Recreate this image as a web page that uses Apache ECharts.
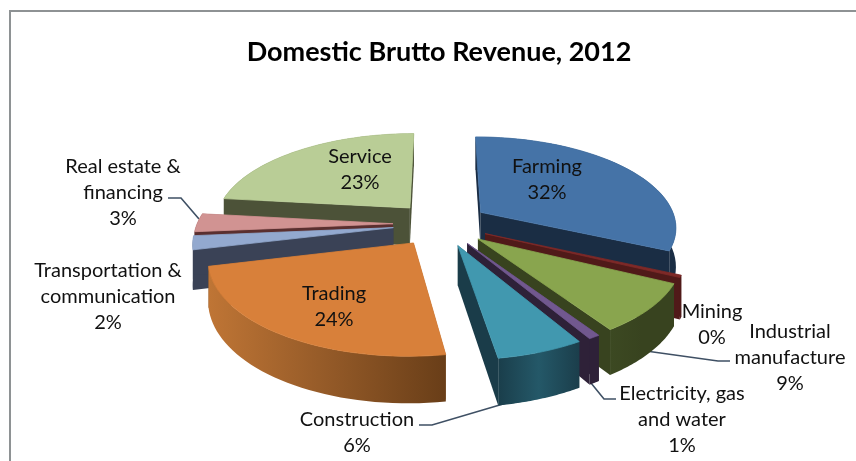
<!DOCTYPE html>
<html><head><meta charset="utf-8">
<style>html,body{margin:0;padding:0;background:#fff}#c{width:856px;height:461px}</style>
<script src="https://cdn.jsdelivr.net/npm/echarts@6/dist/echarts.min.js"></script>
</head><body><div id="c"></div>
<script>
const categories = ['Farming','Mining','Industrial\nmanufacture','Electricity, gas\nand water','Construction','Trading','Transportation &\ncommunication','Real estate &\nfinancing','Service'];
const values = [32,0.4,8.5,0.8,6,23.8,2.4,3.2,23.3];
const percentLabels = ['32%','0%','9%','1%','6%','24%','2%','3%','23%'];

const topColors  = ['#4573a7','#7e2a28','#89a54e','#71588f','#4198af','#d8803a','#93a9cf','#d19392','#b9cd96'];
const sideColors = ['#1a2d44','#501a19','#38431f','#2e2138','#1a3c49','#7a4a1e','#3a4256','#5a2f2f','#4c5238'];
const outerL = ['#1a2d44','#501a19','#3c4922','#2e2138','#1a3e4b','#bf7535','#3a4256','#5a2f2f','#4c5238'];
const outerM = ['#1a2d44','#501a19','#38431f','#2e2138','#245868','#945a28','#3a4256','#5a2f2f','#4c5238'];
const outerR = ['#1a2d44','#501a19','#38431f','#2e2138','#1b3e4b','#693e18','#3a4256','#5a2f2f','#4c5238'];
const insideLabel = {0:[547,180],8:[360,170],5:[334,307]};
const outsideLabel = {1:[712,325],2:[790,358],3:[682,420],4:[357,433],6:[108,297],7:[123,193]};
const leaders = [[[199,219],[181,198],[168,198]],[[646,351],[718,361],[730,361]],[[591,383],[604,399],[616,399]],[[419,425],[432,425],[520,399]]];

const P = {x0:441,y0:224,R:196,A:90,k:0.15,D:38.6,e:0.245};
const total = values.reduce((a,b)=>a+b,0);
let acc = 0;
const slices = values.map((v,i)=>{
  const a0 = acc/total*2*Math.PI; acc += v;
  const a1 = acc/total*2*Math.PI, m=(a0+a1)/2;
  return {i,a0,a1,ou:P.e*Math.sin(m),ov:-P.e*Math.cos(m)};
});
const order = slices.slice().sort((a,b)=>a.ov-b.ov);
function proj(u,v,z){
  const g = 1/(1-P.k*v);
  return [P.x0+P.R*u*g, P.y0+P.A*v*g+z*P.D*g];
}
function piece(s,t,r,z){
  const a = s.a0+(s.a1-s.a0)*t;
  return proj(s.ou+r*Math.sin(a), s.ov-r*Math.cos(a), z);
}
function renderSlice(params){
  const s = order[params.dataIndex], i=s.i, n=40;
  const topArc=[],botArc=[];
  for(let j=0;j<=n;j++){topArc.push(piece(s,j/n,1,0));botArc.push(piece(s,j/n,1,1));}
  const a=piece(s,0,0,0), b=piece(s,0,0,1);
  const poly=(pts,fill,lw)=>({type:'polygon',shape:{points:pts},style:{fill,stroke:lw?fill:null,lineWidth:lw}});
  const grad={type:'linear',x:0,y:0,x2:1,y2:0,colorStops:[{offset:0,color:outerL[i]},{offset:0.5,color:outerM[i]},{offset:1,color:outerR[i]}]};
  return {type:'group',children:[
    poly([a,b,botArc[0],topArc[0]],sideColors[i],0),
    poly([a,b,botArc[n],topArc[n]],sideColors[i],0),
    poly(topArc.concat(botArc.slice().reverse()),grad,0),
    poly([a].concat(topArc),topColors[i],0.8)
  ]};
}
const font={fontFamily:'Lato',fontSize:20,fill:'#111',lineHeight:26,align:'center',verticalAlign:'middle'};
function renderLabels(params){
  const i=params.dataIndex, pos=insideLabel[i]||outsideLabel[i];
  return {type:'text',x:pos[0],y:pos[1],style:Object.assign({text:categories[i]+'\n'+percentLabels[i]},font)};
}
function renderLeader(params){
  return {type:'polyline',shape:{points:leaders[params.dataIndex]},style:{fill:'none',stroke:'#3f5064',lineWidth:1.6}};
}
const chart=echarts.init(document.getElementById('c'),null,{renderer:'canvas'});
chart.setOption({
  animation:false,backgroundColor:'#fff',
  title:{text:'Domestic Brutto Revenue, 2012',left:434,top:47,textAlign:'center',textVerticalAlign:'middle',
    textStyle:{fontFamily:'Lato',fontWeight:'bold',fontSize:27,color:'#000'}},
  graphic:[{type:'polyline',shape:{points:[[10,461],[10,11],[856,11]]},style:{fill:'none',stroke:'#8e9294',lineWidth:2}}],
  series:[
    {type:'custom',coordinateSystem:'none',renderItem:renderLeader,data:leaders.map((_,i)=>i),z:1,silent:true},
    {type:'custom',coordinateSystem:'none',renderItem:renderSlice,data:order.map(s=>values[s.i]),z:2,silent:true},
    {type:'custom',coordinateSystem:'none',renderItem:renderLabels,data:values,z:3,silent:true}
  ]
});
</script></body></html>
